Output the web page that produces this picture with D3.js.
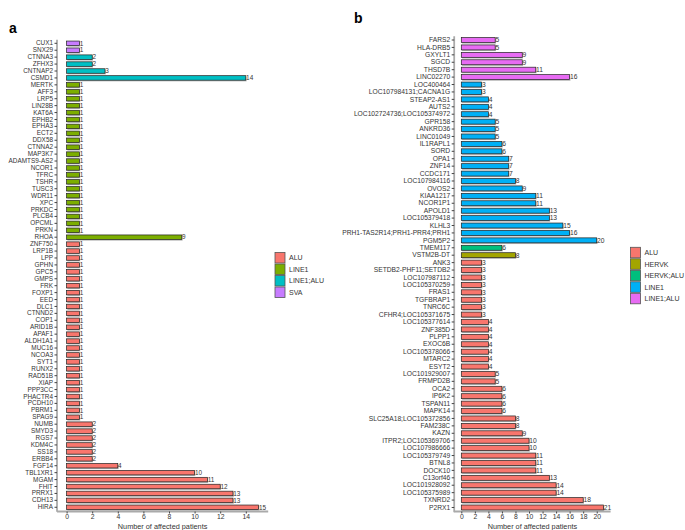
<!DOCTYPE html>
<html><head><meta charset="utf-8">
<script src="https://cdn.jsdelivr.net/npm/d3@7"></script>
<style>body{margin:0;background:#fff}svg{font-family:"Liberation Sans",Arial,sans-serif}</style>
</head><body><svg id="c" width="685" height="530"></svg>
<script>
// ---------- Panel a data ----------
const genesA = ["CUX1","SNX29","CTNNA3","ZFHX3","CNTNAP2","CSMD1","MERTK","AFF3","LRP5","LIN28B","KAT6A","EPHB2","EPHA3","ECT2","DDX58","CTNNA2","MAP3K7","ADAMTS9-AS2","NCOR1","TFRC","TSHR","TUSC3","WDR11","XPC","PRKDC","PLCB4","OPCML","PRKN","RHOA","ZNF750","LRP1B","LPP","GPHN","GPC5","GMPS","FRK","FOXP1","EED","DLC1","CTNND2","COP1","ARID1B","APAF1","ALDH1A1","MUC16","NCOA3","SYT1","RUNX2","RAD51B","XIAP","PPP3CC","PHACTR4","PCDH10","PBRM1","SPAG9","NUMB","SMYD3","RGS7","KDM4C","SS18","ERBB4","FGF14","TBL1XR1","MGAM","FHIT","PRRX1","CDH13","HIRA"];
const valuesA = [1,1,2,2,3,14,1,1,1,1,1,1,1,1,1,1,1,1,1,1,1,1,1,1,1,1,1,1,9,1,1,1,1,1,1,1,1,1,1,1,1,1,1,1,1,1,1,1,1,1,1,1,1,1,1,2,2,2,2,2,2,4,10,11,12,13,13,15];
const typesA = ["SVA","SVA","LINE1;ALU","LINE1;ALU","LINE1;ALU","LINE1;ALU",
 "LINE1","LINE1","LINE1","LINE1","LINE1","LINE1","LINE1","LINE1","LINE1","LINE1","LINE1","LINE1","LINE1","LINE1","LINE1","LINE1","LINE1","LINE1","LINE1","LINE1","LINE1","LINE1","LINE1",
 "ALU","ALU","ALU","ALU","ALU","ALU","ALU","ALU","ALU","ALU","ALU","ALU","ALU","ALU","ALU","ALU","ALU","ALU","ALU","ALU","ALU","ALU","ALU","ALU","ALU","ALU","ALU","ALU","ALU","ALU","ALU","ALU","ALU","ALU","ALU","ALU","ALU","ALU","ALU"];
const legendA = ["ALU","LINE1","LINE1;ALU","SVA"];
const colorsA = ["#F8766D","#7CAE00","#00BFC4","#C77CFF"];
const ticksA = [0,2,4,6,8,10,12,14];

// ---------- Panel b data ----------
const genesB = ["FARS2","HLA-DRB5","GXYLT1","SGCD","THSD7B","LINC02270","LOC400464","LOC107984131;CACNA1G","STEAP2-AS1","AUTS2","LOC102724736;LOC105374972","GPR158","ANKRD36","LINC01049","IL1RAPL1","SORD","OPA1","ZNF14","CCDC171","LOC107984116","OVOS2","KIAA1217","NCOR1P1","APOLD1","LOC105379418","KLHL3","PRH1-TAS2R14;PRH1-PRR4;PRH1","PGM5P2","TMEM117","VSTM2B-DT","ANK3","SETDB2-PHF11;SETDB2","LOC107987112","LOC105370259","FRAS1","TGFBRAP1","TNRC6C","CFHR4;LOC105371675","LOC105377614","ZNF385D","PLPP1","EXOC6B","LOC105378066","MTARC2","ESYT2","LOC101929007","FRMPD2B","OCA2","IP6K2","TSPAN11","MAPK14","SLC25A18;LOC105372856","FAM238C","KAZN","ITPR2;LOC105369706","LOC107986666","LOC105379749","BTNL8","DOCK10","C13orf46","LOC101928092","LOC105375989","TXNRD2","P2RX1"];
const valuesB = [5,5,9,9,11,16,3,3,4,4,4,5,5,5,6,6,7,7,7,8,9,11,11,13,13,15,16,20,6,8,3,3,3,3,3,3,3,3,4,4,4,4,4,4,4,5,5,6,6,6,6,8,8,9,10,10,11,11,11,13,14,14,18,21];
const typesB = ["LINE1;ALU","LINE1;ALU","LINE1;ALU","LINE1;ALU","LINE1;ALU","LINE1;ALU",
 "LINE1","LINE1","LINE1","LINE1","LINE1","LINE1","LINE1","LINE1","LINE1","LINE1","LINE1","LINE1","LINE1","LINE1","LINE1","LINE1","LINE1","LINE1","LINE1","LINE1","LINE1","LINE1",
 "HERVK;ALU","HERVK",
 "ALU","ALU","ALU","ALU","ALU","ALU","ALU","ALU","ALU","ALU","ALU","ALU","ALU","ALU","ALU","ALU","ALU","ALU","ALU","ALU","ALU","ALU","ALU","ALU","ALU","ALU","ALU","ALU","ALU","ALU","ALU","ALU","ALU","ALU"];
const legendB = ["ALU","HERVK","HERVK;ALU","LINE1","LINE1;ALU"];
const colorsB = ["#F8766D","#A3A500","#00BF7D","#00B0F6","#E76BF3"];
const ticksB = [0,2,4,6,8,10,12,14,16,18,20];

const svg = d3.select("#c");
const txt = "#333";
const ff = "Liberation Sans, Arial, sans-serif";

function panel(o) {
  const g = svg.append("g");
  const color = d3.scaleOrdinal().domain(o.legend).range(o.colors);
  const x = d3.scaleLinear().domain([-o.maxV*0.05, o.maxV*1.05]).range([o.left, o.right]);
  const y = d3.scaleBand().domain(o.genes).range([o.top, o.bottom]).paddingInner(o.pad).paddingOuter(o.pad/2);
  const data = o.genes.map((gname,i)=>({g:gname,v:o.values[i],t:o.types[i]}));
  g.selectAll("rect.sh").data(data).join("rect").attr("class","sh")
    .attr("x", x(0)+0.8).attr("y", d=>y(d.g)+1.2)
    .attr("width", d=>x(d.v)-x(0)).attr("height", y.bandwidth())
    .attr("fill","#b8b8b8");
  g.selectAll("rect.bar").data(data).join("rect").attr("class","bar")
    .attr("x", x(0)).attr("y", d=>y(d.g))
    .attr("width", d=>x(d.v)-x(0)).attr("height", y.bandwidth())
    .attr("fill", d=>color(d.t)).attr("stroke","#222").attr("stroke-width",0.7);
  g.selectAll("text.val").data(data).join("text").attr("class","val")
    .attr("x", d=>x(d.v)+0.3).attr("y", d=>y(d.g)+y.bandwidth()/2)
    .attr("dy","0.35em").attr("font-size",o.fs).attr("fill",txt).text(d=>d.v);
  const ya = g.append("g").attr("transform",`translate(${o.left},0)`)
    .call(d3.axisLeft(y).tickSize(2.5).tickPadding(1.5));
  ya.select(".domain").attr("stroke","#aaa").attr("stroke-width",1.8).attr("d",`M0,${o.top}V${o.bottom+1}`);
  ya.selectAll(".tick line").attr("stroke","#444");
  ya.selectAll(".tick text").attr("font-size",o.fs).attr("fill",txt).attr("font-family",ff);
  const xa = g.append("g").attr("transform",`translate(0,${o.axisY})`)
    .call(d3.axisBottom(x).tickValues(o.ticks).tickSize(2).tickPadding(0.5));
  xa.select(".domain").attr("stroke","#aaa").attr("stroke-width",1.8).attr("d",`M${o.left},0H${o.right}`);
  xa.selectAll(".tick line").attr("stroke","#444");
  xa.selectAll(".tick text").attr("font-size",6.8).attr("fill",txt).attr("font-family",ff);
  g.append("text").attr("x",(o.left+o.right)/2).attr("y",o.axisY+17.5).attr("text-anchor","middle")
    .attr("font-size",7.3).attr("fill",txt).text("Number of affected patients");
  const lg = g.append("g").attr("transform",`translate(${o.legX},${o.legY})`);
  o.legend.forEach((k,i)=>{
    lg.append("rect").attr("x",0).attr("y",i*11.5).attr("width",10).attr("height",10.5)
      .attr("fill",o.colors[i]).attr("stroke","#555").attr("stroke-width",0.8);
    lg.append("text").attr("x",14).attr("y",i*11.5+5.3).attr("dy","0.35em")
      .attr("font-size",7).attr("fill",txt).text(k);
  });
  g.append("text").attr("x",o.labX).attr("y",o.labY).attr("font-size",14).attr("font-weight","bold").attr("fill","#000").text(o.label);
}

panel({genes:genesA, values:valuesA, types:typesA, legend:legendA, colors:colorsA, ticks:ticksA,
  maxV:15, left:57, right:268.2, top:39.84, bottom:510.74, pad:0.35, axisY:511.5, fs:6.4,
  legX:275, legY:252.5, label:"a", labX:9, labY:33});
panel({genes:genesB, values:valuesB, types:typesB, legend:legendB, colors:colorsB, ticks:ticksB,
  maxV:21, left:454.2, right:610.6, top:36.29, bottom:511.2, pad:0.33, axisY:511.5, fs:6.7,
  legX:630.5, legY:247.3, label:"b", labX:354, labY:23});
</script></body></html>
